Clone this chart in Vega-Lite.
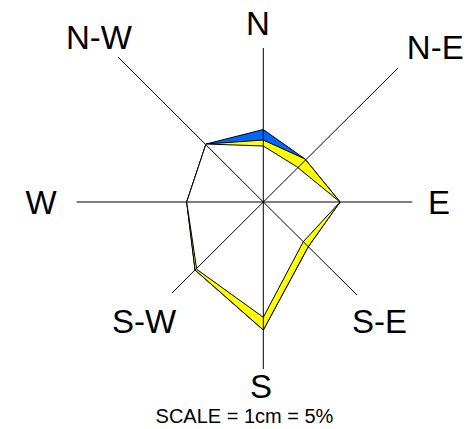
{
  "$schema": "https://vega.github.io/schema/vega-lite/v6.json",
  "width": 472,
  "height": 429,
  "autosize": {"type": "fit", "contains": "padding"},
  "padding": 0,
  "background": "white",
  "config": {"view": {"stroke": null}},
  "datasets": {
    "rose": [
      {"series": "total", "i": 0, "dir": "N", "x": 0, "y": 9.58},
      {"series": "total", "i": 1, "dir": "NE", "x": 5.52, "y": 5.69},
      {"series": "total", "i": 2, "dir": "E", "x": 10.15, "y": 0},
      {"series": "total", "i": 3, "dir": "SE", "x": 5.95, "y": -5.91},
      {"series": "total", "i": 4, "dir": "S", "x": 0, "y": -16.93},
      {"series": "total", "i": 5, "dir": "SW", "x": -9.03, "y": -8.99},
      {"series": "total", "i": 6, "dir": "W", "x": -10.13, "y": 0},
      {"series": "total", "i": 7, "dir": "NW", "x": -7.58, "y": 7.67},
      {"series": "total", "i": 8, "dir": "N", "x": 0, "y": 9.58},
      {"series": "mid", "i": 0, "dir": "N", "x": 0, "y": 8.2},
      {"series": "mid", "i": 1, "dir": "NE", "x": 5.52, "y": 5.69},
      {"series": "mid", "i": 2, "dir": "E", "x": 10.15, "y": 0},
      {"series": "mid", "i": 3, "dir": "SE", "x": 5.95, "y": -5.91},
      {"series": "mid", "i": 4, "dir": "S", "x": 0, "y": -16.93},
      {"series": "mid", "i": 5, "dir": "SW", "x": -9.03, "y": -8.99},
      {"series": "mid", "i": 6, "dir": "W", "x": -10.13, "y": 0},
      {"series": "mid", "i": 7, "dir": "NW", "x": -7.58, "y": 7.67},
      {"series": "mid", "i": 8, "dir": "N", "x": 0, "y": 8.2},
      {"series": "inner", "i": 0, "dir": "N", "x": 0, "y": 7.41},
      {"series": "inner", "i": 1, "dir": "NE", "x": 4.42, "y": 4.67},
      {"series": "inner", "i": 2, "dir": "E", "x": 10.15, "y": 0},
      {"series": "inner", "i": 3, "dir": "SE", "x": 5.29, "y": -5.25},
      {"series": "inner", "i": 4, "dir": "S", "x": 0, "y": -15.25},
      {"series": "inner", "i": 5, "dir": "SW", "x": -8.81, "y": -8.9},
      {"series": "inner", "i": 6, "dir": "W", "x": -10.13, "y": 0},
      {"series": "inner", "i": 7, "dir": "NW", "x": -7.58, "y": 7.67},
      {"series": "inner", "i": 8, "dir": "N", "x": 0, "y": 7.41}
    ],
    "spokes": [
      {"dir": "N", "x": 0, "y": 0, "x2": 0, "y2": 20.37},
      {"dir": "NE", "x": 0, "y": 0, "x2": 17.82, "y2": 17.72},
      {"dir": "E", "x": 0, "y": 0, "x2": 19.71, "y2": 0},
      {"dir": "SE", "x": 0, "y": 0, "x2": 12.39, "y2": -12.3},
      {"dir": "S", "x": 0, "y": 0, "x2": 0, "y2": -22.09},
      {"dir": "SW", "x": 0, "y": 0, "x2": -12.08, "y2": -12.04},
      {"dir": "W", "x": 0, "y": 0, "x2": -24.68, "y2": 0},
      {"dir": "NW", "x": 0, "y": 0, "x2": -19.22, "y2": 19.18}
    ],
    "labels": [
      {"label": "N", "x": -0.7, "y": 22.09},
      {"label": "N-W", "x": -21.73, "y": 20.24},
      {"label": "N-E", "x": 22.75, "y": 18.92},
      {"label": "W", "x": -29.4, "y": -1.59},
      {"label": "E", "x": 23.24, "y": -1.59},
      {"label": "S-W", "x": -15.78, "y": -17.33},
      {"label": "S-E", "x": 15.37, "y": -17.33},
      {"label": "S", "x": -0.3, "y": -25.93}
    ],
    "note": [
      {"label": "SCALE = 1cm = 5%", "x": -2.49, "y": -29.23}
    ]
  },
  "encoding": {
    "x": {"field": "x", "type": "quantitative", "axis": null, "scale": {"domain": [-34.828, 27.606], "nice": false, "zero": false}},
    "y": {"field": "y", "type": "quantitative", "axis": null, "scale": {"domain": [-30.026, 26.72], "nice": false, "zero": false}}
  },
  "layer": [
    {
      "data": {"name": "rose"},
      "transform": [{"filter": "datum.series === 'total'"}],
      "mark": {"type": "line", "fill": "#0066ff", "stroke": "black", "strokeWidth": 1, "strokeJoin": "miter"},
      "encoding": {"order": {"field": "i", "type": "quantitative"}}
    },
    {
      "data": {"name": "rose"},
      "transform": [{"filter": "datum.series === 'mid'"}],
      "mark": {"type": "line", "fill": "#ffff00", "stroke": "black", "strokeWidth": 1, "strokeJoin": "miter"},
      "encoding": {"order": {"field": "i", "type": "quantitative"}}
    },
    {
      "data": {"name": "rose"},
      "transform": [{"filter": "datum.series === 'inner'"}],
      "mark": {"type": "line", "fill": "#ffffff", "stroke": "black", "strokeWidth": 1, "strokeJoin": "miter"},
      "encoding": {"order": {"field": "i", "type": "quantitative"}}
    },
    {
      "data": {"name": "spokes"},
      "mark": {"type": "rule", "stroke": "black", "strokeWidth": 1},
      "encoding": {
        "x2": {"field": "x2"},
        "y2": {"field": "y2"}
      }
    },
    {
      "data": {"name": "labels"},
      "mark": {"type": "text", "font": "Liberation Sans", "fontSize": 33, "align": "center", "baseline": "alphabetic", "color": "black"},
      "encoding": {"text": {"field": "label"}}
    },
    {
      "data": {"name": "note"},
      "mark": {"type": "text", "font": "Liberation Sans", "fontSize": 20, "align": "center", "baseline": "alphabetic", "color": "black"},
      "encoding": {"text": {"field": "label"}}
    }
  ]
}
